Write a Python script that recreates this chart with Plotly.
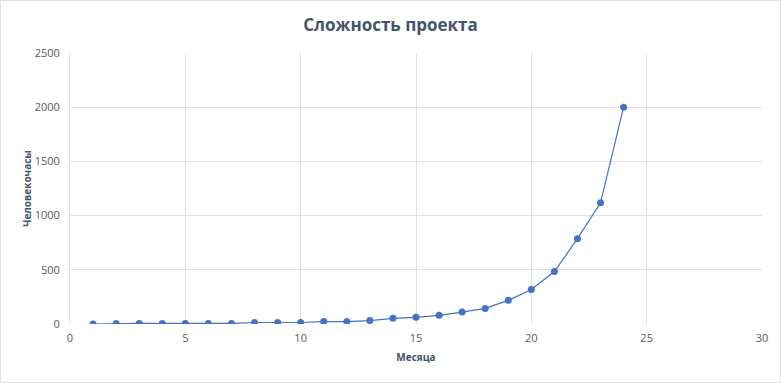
import plotly.graph_objects as go

months = list(range(1, 25))
hours = [0, 5, 5, 5, 5, 5, 5, 14, 14, 14, 22, 22, 32, 52, 62, 80, 110, 144, 218, 319, 484, 787, 1118, 2000]

W, H = 781, 383
ml, mr, mt, mb = 70, 19, 53, 59
pw, ph = W - ml - mr, H - mt - mb
grid = "#dde0e7"

fig = go.Figure(go.Scatter(
    x=months, y=hours, mode="lines+markers",
    line=dict(color="#4472c4", width=1.2),
    marker=dict(color="#4472c4", size=7),
))

fig.update_layout(
    width=W, height=H,
    margin=dict(l=ml, r=mr, t=mt, b=mb),
    paper_bgcolor="white", plot_bgcolor="white",
    font=dict(family="Open Sans", color="#595959", size=11),
    showlegend=False,
    title=dict(text="<b>Сложность проекта</b>", x=0.5, xanchor="center",
               y=1 - 25 / H, yanchor="middle",
               font=dict(size=17, color="#44546a", family="Open Sans")),
    xaxis=dict(range=[0, 30], dtick=5, showgrid=True, gridcolor=grid,
               zeroline=False, showline=False, ticks="", ticklabelstandoff=6,
               title=dict(text="<b>Месяца</b>", font=dict(size=10, color="#44546a"), standoff=9)),
    yaxis=dict(range=[0, 2500], dtick=500, showgrid=True, gridcolor=grid,
               zeroline=False, showline=True, linecolor=grid, ticks="", ticklabelstandoff=7,
               title=dict(text="<b>Человекочасы</b>", font=dict(size=10, color="#44546a"), standoff=1)),
    shapes=[dict(type="rect", xref="paper", yref="paper",
                 x0=-(ml - 0.5) / pw, x1=1 + (mr - 0.5) / pw,
                 y0=-(mb - 0.5) / ph, y1=1 + (mt - 0.5) / ph,
                 line=dict(color=grid, width=1), layer="below")],
)

fig.write_html("out.html", config={"displayModeBar": False},
               post_script="document.body.style.margin='0';document.body.style.overflow='hidden';")
